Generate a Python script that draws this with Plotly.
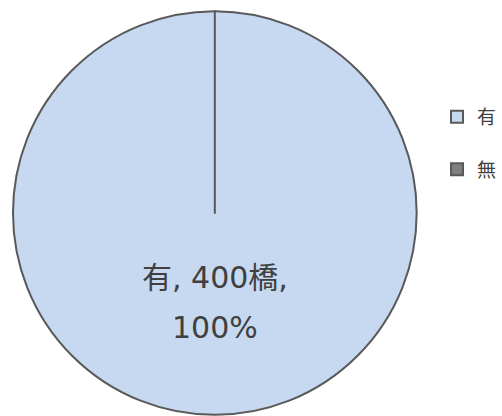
import plotly.graph_objects as go

labels = ["有", "無"]
values = [400, 0]
unit = "橋"
colors = ["#C6D9F1", "#7F7F7F"]

total = sum(values)
main = 0
pct = round(values[main] / total * 100)
line1 = f"{labels[main]}, {values[main]}{unit},"
line2 = f"{pct}%"

# two-line legend entries (second line blank) give the wide row spacing
legend_labels = [f"{lab}<br>\u00a0" for lab in labels]

fig = go.Figure()
fig.add_trace(go.Pie(
    labels=legend_labels,
    values=values,
    sort=False,
    direction="clockwise",
    rotation=0,
    marker=dict(colors=colors, line=dict(color="#595959", width=2)),
    textinfo="none",
    domain=dict(x=[0.026, 0.835], y=[0.0, 0.976]),
    showlegend=True,
    hoverinfo="skip",
))

fig.add_annotation(x=216 / 502, y=1 - 277 / 416, xref="paper", yref="paper",
                   xanchor="center", yanchor="middle",
                   text=line1, showarrow=False,
                   font=dict(size=30, color="#404040"))
fig.add_annotation(x=216 / 502, y=1 - 327 / 416, xref="paper", yref="paper",
                   xanchor="center", yanchor="middle",
                   text=line2, showarrow=False,
                   font=dict(size=30, color="#404040"))

fig.update_layout(
    width=502,
    height=416,
    margin=dict(l=0, r=0, t=0, b=0),
    paper_bgcolor="white",
    plot_bgcolor="white",
    font=dict(family="DejaVu Sans, Noto Sans CJK JP, sans-serif", color="#404040", size=19),
    legend=dict(x=440 / 502, y=1 - 155.5 / 416, xanchor="left", yanchor="middle",
                valign="top", font=dict(size=19, color="#404040")),
)

fig.write_html("out.html",
               config={"displayModeBar": False},
               post_script="document.body.style.margin='0px';document.body.style.overflow='hidden';")
